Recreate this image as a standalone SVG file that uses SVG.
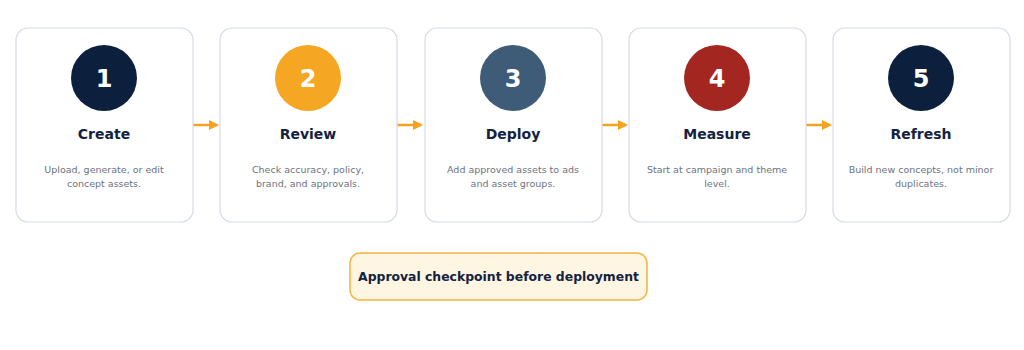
<svg xmlns="http://www.w3.org/2000/svg" width="1024" height="350" viewBox="0 0 1024 350">
<style>
.card{fill:#fff;stroke:#d5dce6;stroke-width:1.2}
.num{font-family:"DejaVu Sans",sans-serif;font-weight:bold;font-size:24px;fill:#fff;text-anchor:middle}
.title{font-family:"DejaVu Sans",sans-serif;font-weight:bold;font-size:14px;fill:#13223f;text-anchor:middle}
.desc{font-family:"DejaVu Sans",sans-serif;font-size:9.5px;fill:#6b7380;text-anchor:middle}
.conn{stroke:#f5a21f;stroke-width:2.5;fill:none}
.note{font-family:"DejaVu Sans",sans-serif;font-weight:bold;font-size:12.4px;fill:#13223f;text-anchor:middle}
</style>
<defs>
<marker id="ah" markerWidth="10" markerHeight="10" refX="8" refY="5" orient="auto" markerUnits="userSpaceOnUse">
<path d="M0,0 L10,5 L0,10 z" fill="#f5a21f"/>
</marker>
</defs>
<rect width="1024" height="350" fill="#fff"/>
<g id="connectors">
<line class="conn" x1="193" y1="125" x2="217" y2="125" marker-end="url(#ah)"/>
<line class="conn" x1="397" y1="125" x2="421" y2="125" marker-end="url(#ah)"/>
<line class="conn" x1="602" y1="125" x2="626" y2="125" marker-end="url(#ah)"/>
<line class="conn" x1="806" y1="125" x2="830" y2="125" marker-end="url(#ah)"/>
</g>
<g id="node1">
<rect class="card" x="16" y="28" width="177" height="194" rx="12"/>
<circle cx="104" cy="78" r="33" fill="#0c1f3d"/>
<text class="num" x="104" y="87">1</text>
<text class="title" x="104" y="139">Create</text>
<text class="desc" x="104" y="173">Upload, generate, or edit</text>
<text class="desc" x="104" y="187">concept assets.</text>
</g>
<g id="node2">
<rect class="card" x="220" y="28" width="177" height="194" rx="12"/>
<circle cx="308" cy="78" r="33" fill="#f5a623"/>
<text class="num" x="308" y="87">2</text>
<text class="title" x="308" y="139">Review</text>
<text class="desc" x="308" y="173">Check accuracy, policy,</text>
<text class="desc" x="308" y="187">brand, and approvals.</text>
</g>
<g id="node3">
<rect class="card" x="425" y="28" width="177" height="194" rx="12"/>
<circle cx="513" cy="78" r="33" fill="#3e5b78"/>
<text class="num" x="513" y="87">3</text>
<text class="title" x="513" y="139">Deploy</text>
<text class="desc" x="513" y="173">Add approved assets to ads</text>
<text class="desc" x="513" y="187">and asset groups.</text>
</g>
<g id="node4">
<rect class="card" x="629" y="28" width="177" height="194" rx="12"/>
<circle cx="717" cy="78" r="33" fill="#a32620"/>
<text class="num" x="717" y="87">4</text>
<text class="title" x="717" y="139">Measure</text>
<text class="desc" x="717" y="173">Start at campaign and theme</text>
<text class="desc" x="717" y="187">level.</text>
</g>
<g id="node5">
<rect class="card" x="833" y="28" width="177" height="194" rx="12"/>
<circle cx="921" cy="78" r="33" fill="#0c1f3d"/>
<text class="num" x="921" y="87">5</text>
<text class="title" x="921" y="139">Refresh</text>
<text class="desc" x="921" y="173">Build new concepts, not minor</text>
<text class="desc" x="921" y="187">duplicates.</text>
</g>
<g id="checkpoint">
<rect x="350" y="253" width="297" height="47" rx="10" fill="#fef5e2" stroke="#f5b342" stroke-width="1.5"/>
<text class="note" x="498.5" y="281">Approval checkpoint before deployment</text>
</g>
</svg>
